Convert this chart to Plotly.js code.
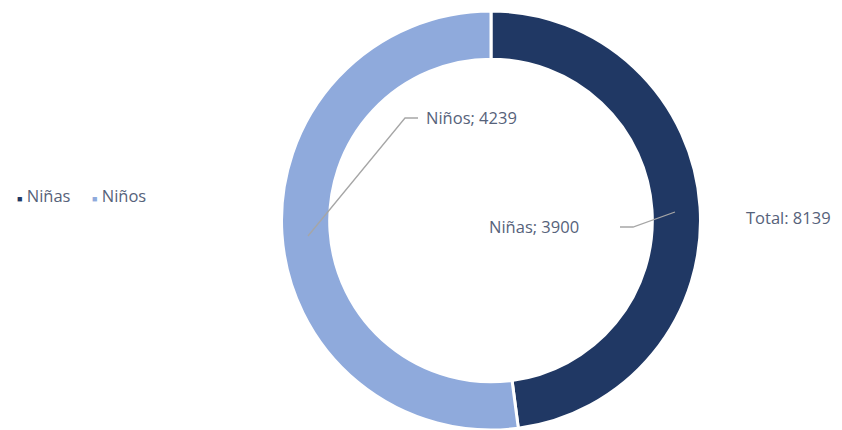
<!DOCTYPE html>
<html><head><meta charset="utf-8">
<script src="https://cdn.plot.ly/plotly-3.0.1.min.js"></script>
<style>html,body{margin:0;padding:0;background:#fff}#chart{width:842px;height:430px}</style>
</head><body><div id="chart"></div>
<script>
const categories = ["Niñas", "Niños"];
const values = [3900, 4239];
const colors = ["#203864", "#8FAADC"];
const total = values.reduce((a, b) => a + b, 0);

const W = 842, H = 430;
const px = x => x / W, py = y => 1 - y / H;
const txt = "#56627a";
const font = {family: "'Open Sans', sans-serif", size: 16.5, color: txt};

const trace = {
  type: "pie", labels: categories, values: values, hole: 0.77,
  sort: false, direction: "clockwise", rotation: 0,
  marker: {colors: colors, line: {color: "#ffffff", width: 3}},
  textinfo: "none", hoverinfo: "label+value",
  domain: {x: [px(491 - 210), px(491 + 210)], y: [0, py(11)]},
  showlegend: false
};

const legendX = [15, 90];
const legendAnn = categories.map((c, i) => ({
  x: px(legendX[i]), y: py(196), xref: "paper", yref: "paper", xanchor: "left", yanchor: "middle",
  text: `<span style="color:${colors[i]};font-size:9px">■</span> ${c}`, showarrow: false, font: font
}));

const layout = {
  width: W, height: H, margin: {l: 0, r: 0, t: 0, b: 0},
  paper_bgcolor: "#fff", font: font,
  showlegend: false,
  annotations: legendAnn.concat([
    {x: px(424), y: py(118), xref: "paper", yref: "paper", xanchor: "left", yanchor: "middle",
     text: categories[1] + "; " + values[1], showarrow: false, font: font},
    {x: px(487), y: py(226), xref: "paper", yref: "paper", xanchor: "left", yanchor: "middle",
     text: categories[0] + "; " + values[0], showarrow: false, font: font},
    {x: px(744), y: py(217), xref: "paper", yref: "paper", xanchor: "left", yanchor: "middle",
     text: "Total: " + total, showarrow: false, font: font}
  ]),
  shapes: [
    {type: "path", xref: "paper", yref: "paper",
     path: `M ${px(308)} ${py(236)} L ${px(405)} ${py(118)} L ${px(418)} ${py(118)}`,
     line: {color: "#a6a6a6", width: 1.3}},
    {type: "path", xref: "paper", yref: "paper",
     path: `M ${px(620)} ${py(227)} L ${px(633)} ${py(227)} L ${px(675)} ${py(212)}`,
     line: {color: "#a6a6a6", width: 1.3}}
  ]
};

Plotly.newPlot("chart", [trace], layout, {displayModeBar: false, staticPlot: true});
</script></body></html>
